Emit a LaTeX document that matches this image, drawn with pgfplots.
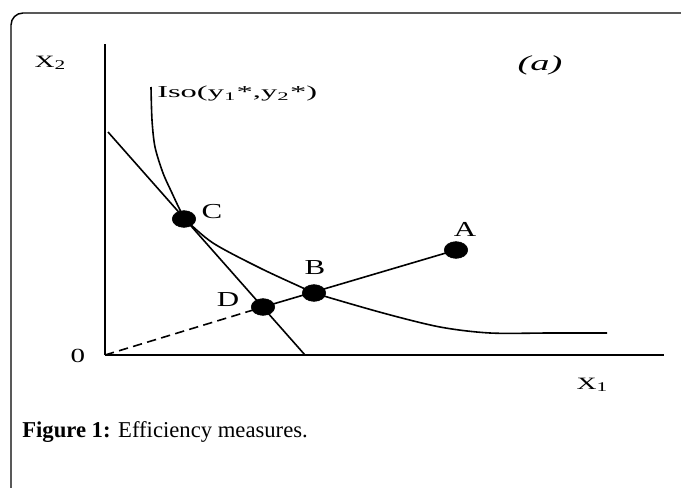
\documentclass[border=0pt]{standalone}
\usepackage{pgfplots}
\pgfplotsset{compat=1.18}
\usepackage{graphicx}
\usepackage{fontspec}
\setmainfont{Liberation Serif}
\begin{document}
\begin{tikzpicture}[x=0.75pt,y=0.75pt]
\begin{axis}[
  at={(0,0)}, anchor=origin,
  x=0.75pt, y=0.75pt,
  xmin=0, xmax=559, ymin=0, ymax=311,
  axis lines=left,
  axis line style={line width=1.6pt,-},
  ticks=none,
  clip=false,
]
% isoquant
\addplot[black, line width=1.2pt, smooth, tension=0.5] coordinates {
(46,268) (47,235) (50,208) (58,182) (67,162) (75,145) (80,136) (108,112) (155,87) (198,67) (209,62) (278,42) (335,28) (385,22) (445,22) (502,22)};
% price line
\addplot[black, line width=1.2pt] coordinates {(3,223) (200,0)};
% ray
\addplot[black, line width=1.2pt, dash pattern=on 7pt off 4pt] coordinates {(0,0) (158,48)};
\addplot[black, line width=1.2pt] coordinates {(158,48) (351,105)};
% points
\addplot[only marks, mark=*, mark size=6.3pt, mark options={xscale=1.4, fill=black, draw=black}] coordinates {(79,136) (209,62) (158,48) (351,105)};
% labels
\node at (axis cs:107,143) {\fontsize{16}{18}\selectfont\scalebox{1.45}[1]{C}};
\node at (axis cs:210,87) {\fontsize{16}{18}\selectfont\scalebox{1.45}[1]{B}};
\node at (axis cs:123,55) {\fontsize{16}{18}\selectfont\scalebox{1.45}[1]{D}};
\node at (axis cs:360,126) {\fontsize{16}{18}\selectfont\scalebox{1.45}[1]{A}};
\node at (axis cs:-27,-1) {\fontsize{15}{17}\selectfont\scalebox{1.45}[1]{0}};
\node at (axis cs:-55,292) {\fontsize{13}{15}\selectfont\scalebox{1.6}[1]{X\raisebox{-0.25ex}{\fontsize{10}{11}\selectfont 2}}};
\node at (axis cs:487,-30) {\fontsize{13}{15}\selectfont\scalebox{1.6}[1]{X\raisebox{-0.25ex}{\fontsize{10}{11}\selectfont 1}}};
\node at (axis cs:435,290) {\fontsize{16}{18}\selectfont\scalebox{1.8}[1]{\itshape (a)}};
\node[anchor=west, inner sep=0pt] at (axis cs:52,261) {\fontsize{12.5}{14}\selectfont\scalebox{1.95}[1]{Iso(y\textsubscript{1}*,y\textsubscript{2}*)}};
\end{axis}
% frame
\draw[line width=1.1pt, rounded corners=9pt] (-94,-140) -- (-94,342) -- (590,342);
% caption
\node[anchor=base west, inner sep=0pt] at (-83,-82) {\fontsize{17}{20}\selectfont\textbf{Figure 1:} Efficiency measures.};
\pgfresetboundingbox
\path (-105,-132) rectangle (576,355);
\end{tikzpicture}
\end{document}
